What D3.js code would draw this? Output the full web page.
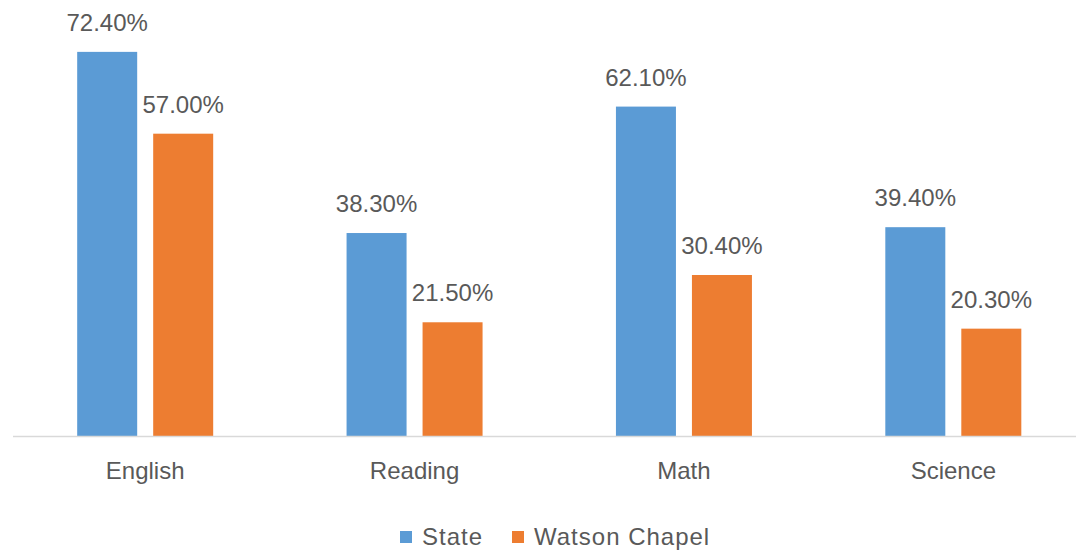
<!DOCTYPE html>
<html>
<head>
<meta charset="utf-8">
<script src="https://cdn.jsdelivr.net/npm/d3@7"></script>
<style>
  html, body { margin: 0; padding: 0; background: #fff; }
  svg { display: block; }
  text { font-family: "Liberation Sans", Arial, sans-serif; fill: #595959; }
</style>
</head>
<body>
<svg id="chart" width="1076" height="551"></svg>
<script>
const categories = ["English", "Reading", "Math", "Science"];
const seriesNames = ["State", "Watson Chapel"];
const stateValues = [72.4, 38.3, 62.1, 39.4];
const watsonValues = [57.0, 21.5, 30.4, 20.3];
const seriesColors = ["#5B9BD5", "#ED7D31"];

const data = categories.map((c, i) => ({
  category: c,
  values: [
    { series: seriesNames[0], value: stateValues[i] },
    { series: seriesNames[1], value: watsonValues[i] }
  ]
}));

const svg = d3.select("#chart");
const W = 1076, H = 551;

const x0 = d3.scaleBand().domain(categories).range([10.5, 1088]).paddingInner(0).paddingOuter(0);
const groupW = 136;
const x1 = d3.scaleBand().domain(seriesNames).range([0, groupW]).paddingInner(16 / 76).paddingOuter(0);
const y = d3.scaleLinear().domain([0, 80]).range([436.5, 11.5]);
const color = d3.scaleOrdinal().domain(seriesNames).range(seriesColors);

const groups = svg.append("g").selectAll("g")
  .data(data).join("g")
  .attr("transform", d => `translate(${x0(d.category) + (x0.bandwidth() - groupW) / 2},0)`);

groups.selectAll("rect")
  .data(d => d.values).join("rect")
  .attr("x", d => x1(d.series))
  .attr("width", x1.bandwidth())
  .attr("y", d => y(d.value))
  .attr("height", d => y(0) - y(d.value))
  .attr("fill", d => color(d.series));

groups.selectAll("text.lbl")
  .data(d => d.values).join("text")
  .attr("class", "lbl")
  .attr("x", d => x1(d.series) + x1.bandwidth() / 2)
  .attr("y", d => y(d.value) - 21)
  .attr("text-anchor", "middle")
  .style("font-size", "24px")
  .text(d => d.value.toFixed(2) + "%");

// x axis
const xAxis = svg.append("g")
  .attr("transform", `translate(0,${y(0)})`)
  .call(d3.axisBottom(x0).tickSize(0).tickPadding(25));
xAxis.select(".domain").attr("stroke", "#d9d9d9").attr("stroke-width", 1.5)
  .attr("d", `M13,0H${W}`);
xAxis.selectAll("text").style("font-size", "24px").attr("fill", "#595959")
  .style("font-family", '"Liberation Sans", Arial, sans-serif');

// legend
const legendItems = [
  { name: seriesNames[0], sx: 400, tx: 422 },
  { name: seriesNames[1], sx: 512, tx: 534 }
];
const lg = svg.append("g");
lg.selectAll("rect").data(legendItems).join("rect")
  .attr("x", d => d.sx).attr("y", 531).attr("width", 12).attr("height", 12)
  .attr("fill", d => color(d.name));
lg.selectAll("text").data(legendItems).join("text")
  .attr("x", d => d.tx).attr("y", 545)
  .style("font-size", "24px")
  .style("letter-spacing", "1px")
  .text(d => d.name);
</script>
</body>
</html>
